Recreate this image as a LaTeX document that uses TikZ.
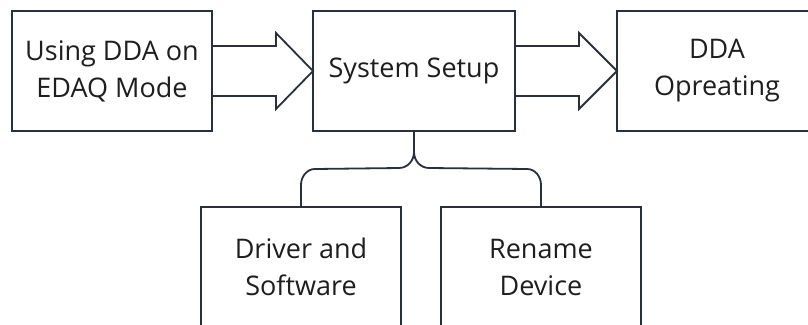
\documentclass[tikz,border=0pt]{standalone}
\usepackage{fontspec}
\setmainfont{Open Sans}
\usetikzlibrary{calc}
\definecolor{ln}{HTML}{2A2F3C}
\definecolor{tx}{HTML}{1E1E1E}
\tikzset{
  box/.style={draw=ln, line width=1.8pt, minimum width=200pt, minimum height=120pt, outer sep=0pt, inner sep=0pt, align=center, text=tx, font=\fontsize{27}{37}\selectfont},
  conn/.style={draw=ln, line width=1.8pt, line join=miter},
}
\begin{document}
\begin{tikzpicture}[x=1pt,y=1pt]
\useasboundingbox (0,0) rectangle (808,-324);
\clip (0,0) rectangle (808,-324);
\fill[white] (0,0) rectangle (808,-324);
\node[box] (A) at (112,-71) {Using DDA on\\EDAQ Mode};
\node[box, minimum width=202pt] (B) at (414,-71) {System Setup};
\node[box] (C) at (717,-71) {DDA\\Opreating};
\node[box] (D) at (301,-267) {Driver and\\Software};
\node[box] (E) at (541,-267) {Rename\\Device};
% block arrows
\draw[conn] ($(A.east)+(0,25)$) -- ($(B.west)+(-37,25)$) -- ($(B.west)+(-37,38)$) -- (B.west)
  -- ($(B.west)+(-37,-38)$) -- ($(B.west)+(-37,-25)$) -- ($(A.east)+(0,-25)$);
\draw[conn] ($(B.east)+(0,25)$) -- ($(C.west)+(-38,25)$) -- ($(C.west)+(-38,38)$) -- (C.west)
  -- ($(C.west)+(-38,-38)$) -- ($(C.west)+(-38,-25)$) -- ($(B.east)+(0,-25)$);
% brace
\coordinate (j) at ($(B.south)+(0,-21)$);
\draw[conn] (B.south) -- (j);
\draw[conn] (j) to[out=-90,in=0] ++(-15,-16) -- ($(D.north)+(14,38)$) to[out=180,in=90] ($(D.north)+(0,22)$) -- (D.north);
\draw[conn] (j) to[out=-90,in=180] ++(15,-16) -- ($(E.north)+(-14,38)$) to[out=0,in=90] ($(E.north)+(0,22)$) -- (E.north);
\end{tikzpicture}
\end{document}
